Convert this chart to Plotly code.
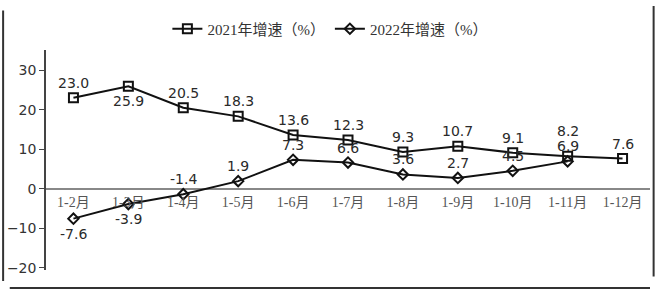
import plotly.graph_objects as go

categories = ["1-2月", "1-3月", "1-4月", "1-5月", "1-6月", "1-7月", "1-8月", "1-9月", "1-10月", "1-11月", "1-12月"]
growth_2021 = [23.0, 25.9, 20.5, 18.3, 13.6, 12.3, 9.3, 10.7, 9.1, 8.2, 7.6]
growth_2022 = [-7.6, -3.9, -1.4, 1.9, 7.3, 6.6, 3.6, 2.7, 4.5, 6.9]
y_tick_vals = [-20, -10, 0, 10, 20, 30]

# label vertical offsets (px) — style only
shift_2021 = [15, -15, 15, 15, 15, 15, 15, 15, 15, 25, 15]
shift_2022 = [-15, -15, 15, 15, 15, 15, 15, 15, 15, 15]

y_min, y_max = -20.6, 35.1
label_font = dict(family="DejaVu Sans", size=14, color="#2a2a2a")

fig = go.Figure()
fig.add_trace(go.Scatter(
    x=categories, y=growth_2021, name="2021年增速（%）",
    mode="lines+markers",
    line=dict(color="#111", width=2),
    marker=dict(symbol="square-open", size=9, color="#111", line=dict(width=2)),
))
fig.add_trace(go.Scatter(
    x=categories[:len(growth_2022)], y=growth_2022, name="2022年增速（%）",
    mode="lines+markers",
    line=dict(color="#111", width=2),
    marker=dict(symbol="diamond-open", size=8, color="#111", line=dict(width=2)),
))

for xs, ys, shifts in [(categories, growth_2021, shift_2021), (categories, growth_2022, shift_2022)]:
    for c, v, s in zip(xs, ys, shifts):
        fig.add_annotation(x=c, y=v, text=f"{v:.1f}", showarrow=False,
                           yshift=s, font=label_font)

zero_pos = (0 - y_min) / (y_max - y_min)

fig.update_layout(
    width=657, height=290,
    margin=dict(l=46, r=7, t=50, b=20, autoexpand=False),
    plot_bgcolor="white", paper_bgcolor="white",
    showlegend=True,
    legend=dict(orientation="h", x=0.47, xanchor="center", y=0.9, yanchor="middle",
                yref="container", font=dict(family="Liberation Serif, Noto Sans CJK SC", size=15, color="#333")),
    xaxis=dict(
        type="category", range=[-0.5, 10.5],
        anchor="free", position=zero_pos,
        showline=False, showgrid=False, ticks="",
        tickfont=dict(family="Liberation Serif, Noto Sans CJK SC", size=14, color="#555"),
        ticklabelstandoff=3,
    ),
    yaxis=dict(
        range=[y_min, y_max], tickvals=y_tick_vals,
        showgrid=False, showline=True, linecolor="#444", linewidth=1.5,
        ticks="outside", ticklen=5, tickcolor="#444",
        tickfont=dict(family="DejaVu Sans", size=14, color="#333"),
        zeroline=True, zerolinecolor="#888", zerolinewidth=1.5,
    ),
    shapes=[
        dict(type="line", xref="paper", yref="paper", x0=-0.071, x1=-0.071, y0=1.18, y1=-0.05, line=dict(color="#333", width=2)),
        dict(type="line", xref="paper", yref="paper", x0=-0.06, x1=1.0, y0=-0.082, y1=-0.082, line=dict(color="#333", width=2)),
        dict(type="line", xref="paper", yref="paper", x0=1.006, x1=1.006, y0=1.2, y1=-0.03, line=dict(color="#333", width=2)),
    ],
)

fig.write_html("out.html")
